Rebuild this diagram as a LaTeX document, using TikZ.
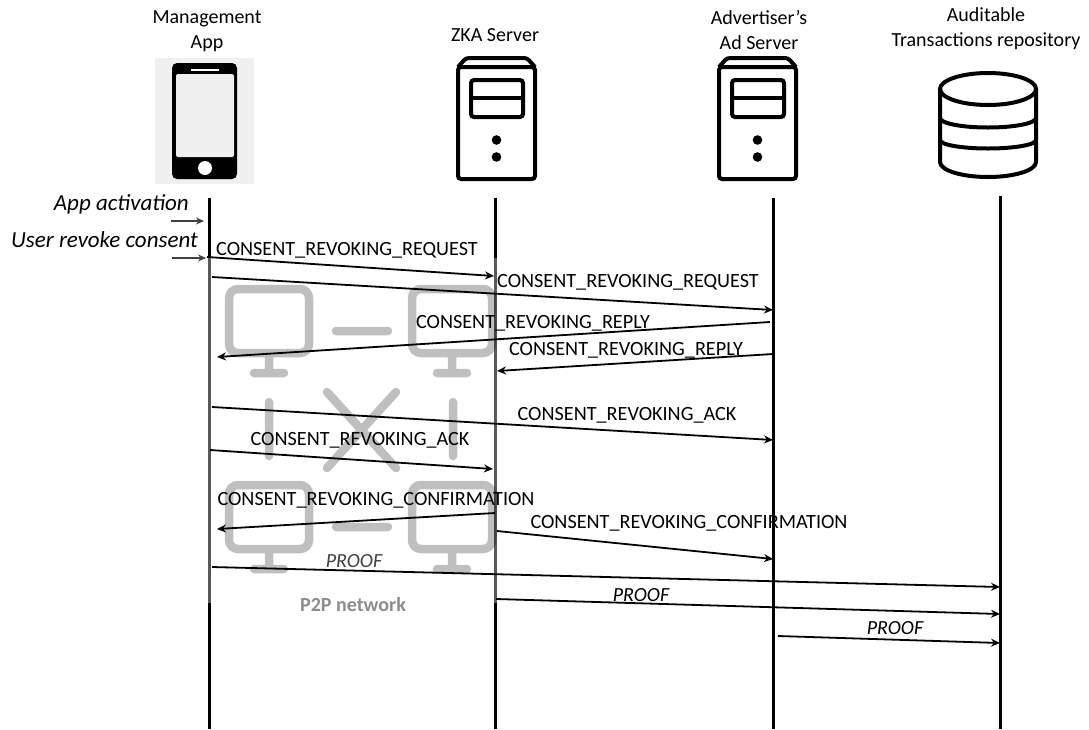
\documentclass[tikz,border=0pt]{standalone}
\usepackage{fontspec}
\setmainfont{Carlito}
\usetikzlibrary{arrows.meta, positioning}
\tikzset{
  head/.style ={align=center, font=\fontsize{20}{25}\selectfont, inner sep=0pt},
  msg/.style  ={font=\fontsize{20.2}{24}\selectfont, inner sep=0pt},
  evt/.style  ={font=\fontsize{23}{27}\itshape\selectfont, inner sep=0pt},
  prf/.style  ={font=\fontsize{20}{24}\itshape\selectfont, inner sep=0pt},
  life/.style ={line width=3pt},
  arr/.style  ={-{Stealth[length=9pt, width=8pt]}, line width=1.8pt},
  small/.style={-{Stealth[length=8pt, width=7pt]}, line width=1.5pt, black!75},
  icon/.style ={line width=4pt, rounded corners=3pt},
  db/.style   ={line width=4pt},
  p2pline/.style={line width=8.5pt, line cap=round, black, opacity=.25},
  pics/srv/.style={code={
    \draw[icon] (0,10) rectangle (77,122);
    \draw[icon] (0,10) -- (8,1) -- (69,1) -- (77,10);
    \draw[icon] (13,23) rectangle (65,60);
    \draw[line width=4pt] (13,41) -- (65,41);
    \fill (38.5,83) circle (4.8);
    \fill (38.5,100) circle (4.8);
  }},
  pics/mon/.style={code={
    \draw[p2pline, rounded corners=9pt]
      (4,4) rectangle (84,68) (44,68) -- (44,88) (29,88) -- (59,88);
  }}
}
\begin{document}
\begin{tikzpicture}[x=1pt, y=-1pt]
    \useasboundingbox (0,0) rectangle (1089,729);
    % column headings
    \node[head] (app) at (207,31) {Management\\App};
    \node[head] (zka) at (495,35) {ZKA Server};
    \node[head] (ads) at (759,30) {Advertiser's\\Ad Server};
    \node[head] (rep) at (986,29) {Auditable\\Transactions repository};
    % phone
    \fill[black!6] (155,58) rectangle (254,184);
    \fill[rounded corners=5pt] (172,63) rectangle (237,179);
    \fill[black!6, rounded corners=2pt] (176,74) rectangle (234,157);
    \fill[white] (205,168) circle (7);
    \draw[white, line width=1.5pt] (191,70) -- (219,70);
    % servers
    \pic at (458,57) {srv};
    \pic at (719,57) {srv};
    % repository
    \draw[db] (988,89) ellipse (48 and 16);
    \draw[db] (940,89) -- (940,162) arc[start angle=180, end angle=0, x radius=48, y radius=15] -- (1036,89);
    \draw[db] (940,118) arc[start angle=180, end angle=0, x radius=48, y radius=9.5];
    \draw[db] (940,140) arc[start angle=180, end angle=0, x radius=48, y radius=8.5];
    % lifelines
    \coordinate (appT) at (209,198);
    \coordinate (appB) at (209,729);
    \coordinate (zkaT) at (495,198);
    \coordinate (zkaB) at (495,729);
    \coordinate (adsT) at (773,198);
    \coordinate (adsB) at (773,729);
    \coordinate (repT) at (1000,196);
    \coordinate (repB) at (1000,729);
    \draw[life] (appT) -- (appB);
    \draw[life] (zkaT) -- (zkaB);
    \draw[life] (adsT) -- (adsB);
    \draw[life] (repT) -- (repB);
    % p2p network
    \fill[white, opacity=.35] (200,258) rectangle (500,603);
    \pic at (225,285) {mon};
    \pic at (408,285) {mon};
    \pic at (225,481) {mon};
    \pic at (408,481) {mon};
    \draw[p2pline] (336,331) -- (388,331) (336,527) -- (388,527)
      (269,402) -- (269,456) (453,402) -- (453,456) (327,392) -- (396,468) (396,392) -- (327,468);
    \node[font=\fontsize{20}{24}\bfseries\selectfont, text=black!45, inner sep=0pt] (p2p) at (353,605) {P2P network};
    % events
    \node[evt, anchor=east] (act) at (189,204) {App activation};
    \node[evt, anchor=east] (rev) at (198,240) {User revoke consent};
    \coordinate (act1) at (171,221);
    \coordinate (act2) at (204,221);
    \coordinate (rev1) at (172,258);
    \coordinate (rev2) at (206,258);
    \draw[small] (act1) -- (act2);
    \draw[small] (rev1) -- (rev2);
    % messages
    \coordinate (m1a) at (207,257);  \coordinate (m1b) at (494,276);
    \coordinate (m2a) at (212,277);  \coordinate (m2b) at (773,310);
    \coordinate (m3a) at (770,322);  \coordinate (m3b) at (217,357);
    \coordinate (m4a) at (773,354);  \coordinate (m4b) at (497,371);
    \coordinate (m5a) at (212,407);  \coordinate (m5b) at (773,440);
    \coordinate (m6a) at (210,450);  \coordinate (m6b) at (493,469);
    \coordinate (m7a) at (495,513);  \coordinate (m7b) at (217,529);
    \coordinate (m8a) at (497,531);  \coordinate (m8b) at (773,559);
    \coordinate (m9a) at (212,567);  \coordinate (m9b) at (1000,587);
    \coordinate (m10a) at (496,599); \coordinate (m10b) at (1000,614);
    \coordinate (m11a) at (778,636); \coordinate (m11b) at (1000,643);
    \draw[arr] (m1a) -- (m1b);
    \draw[arr] (m2a) -- (m2b);
    \draw[arr] (m3a) -- (m3b);
    \draw[arr] (m4a) -- (m4b);
    \draw[arr] (m5a) -- (m5b);
    \draw[arr] (m6a) -- (m6b);
    \draw[arr] (m7a) -- (m7b);
    \draw[arr] (m8a) -- (m8b);
    \draw[arr] (m9a) -- (m9b);
    \draw[arr] (m10a) -- (m10b);
    \draw[arr] (m11a) -- (m11b);
    \node[msg] (req1) at (347,250) {CONSENT\_REVOKING\_REQUEST};
    \node[msg] (req2) at (628,282) {CONSENT\_REVOKING\_REQUEST};
    \node[msg] (rep1) at (533,323) {CONSENT\_REVOKING\_REPLY};
    \node[msg] (rep2) at (626,350) {CONSENT\_REVOKING\_REPLY};
    \node[msg] (ack1) at (627,415) {CONSENT\_REVOKING\_ACK};
    \node[msg] (ack2) at (360,440) {CONSENT\_REVOKING\_ACK};
    \node[msg] (cnf1) at (376,500) {CONSENT\_REVOKING\_CONFIRMATION};
    \node[msg] (cnf2) at (689,523) {CONSENT\_REVOKING\_CONFIRMATION};
    \node[prf, text=black!75] (prf1) at (354,561) {PROOF};
    \node[prf] (prf2) at (641,595) {PROOF};
    \node[prf] (prf3) at (895,628) {PROOF};
  \end{tikzpicture}
\end{document}
